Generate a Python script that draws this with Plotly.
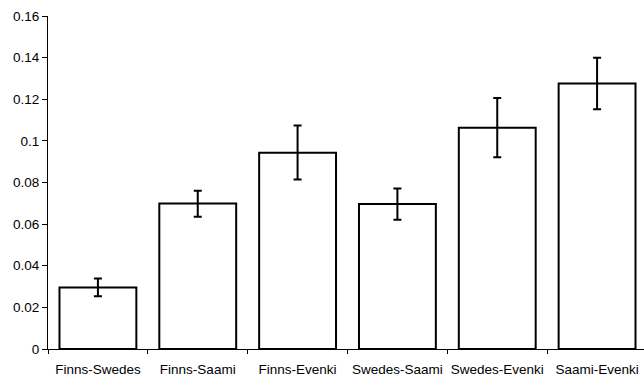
import plotly.graph_objects as go

categories = ["Finns-Swedes", "Finns-Saami", "Finns-Evenki", "Swedes-Saami", "Swedes-Evenki", "Saami-Evenki"]
values = [0.0296, 0.0699, 0.0943, 0.0697, 0.1063, 0.1276]
err_plus = [0.0043, 0.0061, 0.0131, 0.0074, 0.0143, 0.0123]
err_minus = [0.0042, 0.0064, 0.0129, 0.0076, 0.0142, 0.0124]
y_ticks = [0, 0.02, 0.04, 0.06, 0.08, 0.1, 0.12, 0.14, 0.16]
y_tick_labels = ["0", "0.02", "0.04", "0.06", "0.08", "0.1", "0.12", "0.14", "0.16"]

fig = go.Figure(go.Bar(
    x=categories,
    y=values,
    width=0.77,
    marker=dict(color="white", line=dict(color="black", width=2)),
    error_y=dict(type="data", symmetric=False, array=err_plus, arrayminus=err_minus,
                 color="black", thickness=2, width=4),
))

fig.update_layout(
    width=644, height=379,
    margin=dict(l=48, r=0, t=16, b=30, autoexpand=False),
    paper_bgcolor="white", plot_bgcolor="white",
    showlegend=False,
    font=dict(family="Liberation Sans, Arial, sans-serif", size=13.5, color="black"),
)
fig.update_xaxes(
    range=[-0.5, 5.47], automargin=False, tickangle=0,
    showline=True, linecolor="black", linewidth=1,
    ticks="outside", tickson="boundaries", ticklen=4, tickcolor="black",
    ticklabelstandoff=8,
    showgrid=False, zeroline=False,
)
fig.update_yaxes(
    range=[0, 0.16], automargin=False,
    tickvals=y_ticks, ticktext=y_tick_labels,
    showline=True, linecolor="black", linewidth=1,
    ticks="outside", ticklen=5, tickcolor="black",
    showgrid=False, zeroline=False,
)

fig.write_html(
    "out.html",
    config={"displayModeBar": False},
    post_script="document.body.style.margin='0';document.body.style.overflow='hidden';",
)
